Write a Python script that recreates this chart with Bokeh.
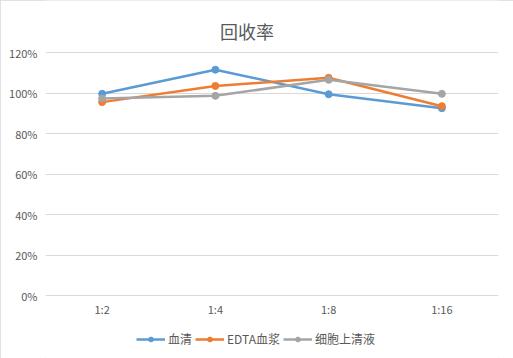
from bokeh.plotting import figure
from bokeh.models import FactorRange, Range1d, Legend, LegendItem, NumeralTickFormatter, FixedTicker, Label
from bokeh.core.properties import value
from bokeh.embed import file_html
from bokeh.resources import INLINE

categories = ["1:2", "1:4", "1:8", "1:16"]
serum = [0.996, 1.115, 0.994, 0.925]
edta_plasma = [0.955, 1.035, 1.075, 0.935]
cell_supernatant = [0.973, 0.986, 1.065, 0.996]
series_names = ["血清", "EDTA血浆", "细胞上清液"]
y_ticks = [0, 0.2, 0.4, 0.6, 0.8, 1.0, 1.2]
title_text = "回收率"

colors = ["#5B9BD5", "#ED7D31", "#A5A5A5"]
FONT = "Noto Sans CJK SC"
TXT = "#595959"

p = figure(width=513, height=358, output_backend="svg", toolbar_location=None,
           x_range=FactorRange(*categories, range_padding=0),
           y_range=Range1d(-0.3111, 1.4568),
           min_border_left=45, min_border_right=15, min_border_top=0, min_border_bottom=0)

p.outline_line_color = None
p.background_fill_color = "white"
p.border_fill_color = "white"
p.styles = {"outline": "1px solid #d9d9d9", "outline-offset": "-1px"}

p.xaxis.visible = False
p.xgrid.grid_line_color = None
p.ygrid.grid_line_color = "#d9d9d9"
p.ygrid.grid_line_width = 1
p.yaxis.ticker = FixedTicker(ticks=y_ticks)
p.yaxis.formatter = NumeralTickFormatter(format="0%")
ax = p.yaxis[0]
ax.axis_line_color = None
ax.major_tick_line_color = None
ax.minor_tick_line_color = None
ax.major_tick_out = 0
ax.major_tick_in = 0
ax.major_label_text_font = FONT
ax.major_label_text_font_size = "11px"
ax.major_label_text_color = TXT
ax.major_label_standoff = 8

# category labels under the 0% gridline
p.text(x=categories, y=[0] * len(categories), text=categories, y_offset=13,
       text_align="center", text_baseline="middle", text_font=value(FONT),
       text_font_size="11px", text_color=TXT)

p.add_layout(Label(x=1.779, y=1.3086, text=title_text, text_align="center", text_baseline="middle",
                   text_font=FONT, text_font_size="18px", text_color=TXT))

items = []
for name, vals, c in zip(series_names, [serum, edta_plasma, cell_supernatant], colors):
    r1 = p.line(categories, vals, line_color=c, line_width=2.5)
    r2 = p.scatter(categories, vals, size=7, fill_color=c, line_color=c)
    items.append(LegendItem(label=name, renderers=[r1, r2]))

legend = Legend(items=items, orientation="horizontal", location=(91, 11),
                label_text_font=FONT, label_text_font_size="12px", label_text_color=TXT,
                glyph_width=29, glyph_height=12, spacing=3, label_standoff=3,
                border_line_color=None, background_fill_alpha=0, margin=0, padding=2)
p.add_layout(legend, "center")

open("out.html", "w").write(file_html(p, INLINE))
